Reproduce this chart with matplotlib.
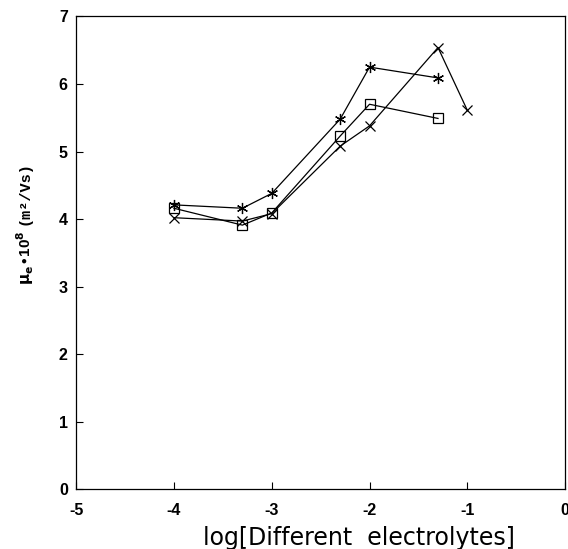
import numpy as np
import matplotlib.pyplot as plt

# log concentration of electrolyte
x_star = [-4.0, -3.3, -3.0, -2.3, -2.0, -1.3]
y_star = [4.21, 4.16, 4.38, 5.48, 6.25, 6.09]

x_square = [-4.0, -3.3, -3.0, -2.3, -2.0, -1.3]
y_square = [4.16, 3.91, 4.09, 5.23, 5.70, 5.49]

x_cross = [-4.0, -3.3, -3.0, -2.3, -2.0, -1.3, -1.0]
y_cross = [4.02, 3.97, 4.08, 5.08, 5.38, 6.54, 5.61]

x_ticks = [-5, -4, -3, -2, -1, 0]
y_ticks = [0, 1, 2, 3, 4, 5, 6, 7]

plt.rcParams['font.family'] = ['Liberation Sans', 'DejaVu Sans']
plt.rcParams['axes.unicode_minus'] = False

fig = plt.figure(figsize=(5.68, 5.49), dpi=100)
ax = fig.add_axes([0.134, 0.109, 0.861, 0.861])

ax.plot(x_star, y_star, color='black', lw=0.9, marker=(6, 2, 0), ms=8, mew=0.9)
ax.plot(x_square, y_square, color='black', lw=0.9, marker='s', ms=7, mfc='none', mew=0.9)
ax.plot(x_cross, y_cross, color='black', lw=0.9, marker='x', ms=7.5, mew=0.9)

ax.set_xlim(-5, 0)
ax.set_ylim(0, 7)
ax.set_xticks(x_ticks)
ax.set_yticks(y_ticks)
ax.tick_params(direction='in', length=5, width=0.8, labelsize=11.5)
ax.tick_params(axis='x', pad=10)
ax.tick_params(axis='y', pad=6)
for lab in ax.get_xticklabels() + ax.get_yticklabels():
    lab.set_fontweight('bold')
for s in ax.spines.values():
    s.set_linewidth(0.9)

# axis titles placed by hand like the original print
fig.text(0.632, 1 - 538 / 549, 'log[Different  electrolytes]', fontsize=17,
         family='DejaVu Sans', ha='center', va='center')
fig.text(25 / 568, 1 - 258 / 549, r'$\mathbf{\mu_e}$$\bullet$10$^\mathbf{8}$',
         fontsize=11, fontweight='bold', rotation=90, ha='center', va='center')
fig.text(25 / 568, 1 - 193 / 549, '(m²/Vs)', fontsize=11, fontweight='bold',
         family='Liberation Mono', rotation=90, ha='center', va='center')

fig.savefig('out.png', dpi=100)
